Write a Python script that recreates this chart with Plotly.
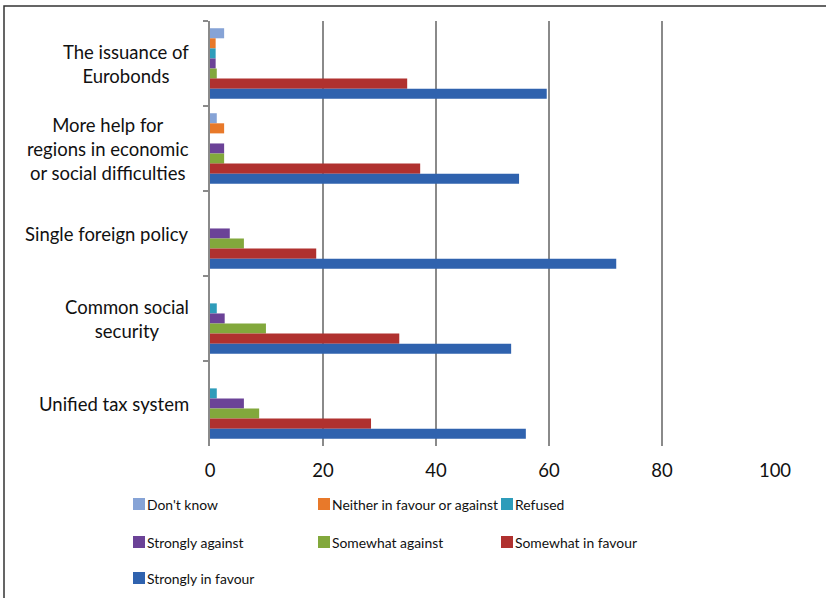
import plotly.graph_objects as go

# Survey categories (top to bottom)
categories = [
    "The issuance of<br>Eurobonds",
    "More help for<br>regions in economic<br>or social difficulties",
    "Single foreign policy",
    "Common social<br>security",
    "Unified tax system",
]

# Response shares (%) per category
dont_know = [2.5, 1.2, 0, 0, 0]
neither = [1.0, 2.5, 0, 0, 0]
refused = [1.0, 0, 0, 1.2, 1.2]
strongly_against = [1.0, 2.5, 3.5, 2.6, 6.0]
somewhat_against = [1.2, 2.5, 6.0, 9.9, 8.7]
somewhat_in_favour = [34.9, 37.2, 18.8, 33.5, 28.5]
strongly_in_favour = [59.6, 54.7, 71.9, 53.3, 55.9]

series_names = [
    "Don't know", "Neither in favour or against", "Refused",
    "Strongly against", "Somewhat against", "Somewhat in favour",
    "Strongly in favour",
]
series_values = [
    dont_know, neither, refused, strongly_against,
    somewhat_against, somewhat_in_favour, strongly_in_favour,
]
series_colors = [
    "#86A3D6", "#E8792A", "#2E9CBA", "#6B4297", "#82A83C", "#B0312F", "#2F62AE",
]

FONT = "Lato"
W, H = 826, 598
ML, MR, MT, MB = 210, 51, 21, 152
PW, PH = W - ML - MR, H - MT - MB


def px_x(px):
    return (px - ML) / PW


def px_y(py):
    return (H - MB - py) / PH


fig = go.Figure()
for name, vals, color in zip(series_names, series_values, series_colors):
    fig.add_trace(go.Bar(
        y=categories, x=vals, name=name, orientation="h",
        marker=dict(color=color, line=dict(width=0)),
        showlegend=False,
    ))

# category labels, centred block set against the axis
for cat in categories:
    fig.add_annotation(
        x=-0.033, xref="paper", y=cat, yref="y", text=cat,
        xanchor="right", yanchor="middle", align="center", showarrow=False,
        font=dict(family=FONT, size=18.5, color="#111"),
    )

# key below the chart: three columns, three rows
col_left = [133, 318, 501]
row_mid = [504, 542, 578]
shapes = []
for i, (name, color) in enumerate(zip(series_names, series_colors)):
    cx, ry = col_left[i % 3], row_mid[i // 3]
    shapes.append(dict(
        type="rect", xref="paper", yref="paper",
        x0=px_x(cx), x1=px_x(cx + 12), y0=px_y(ry + 6), y1=px_y(ry - 6),
        line=dict(width=0), fillcolor=color,
    ))
    fig.add_annotation(
        x=px_x(cx + 12), xref="paper", y=px_y(ry), yref="paper", text=name,
        xanchor="left", yanchor="middle", showarrow=False,
        font=dict(family=FONT, size=13.9, color="#111"),
    )

# outer chart frame
shapes.append(dict(
    type="rect", xref="paper", yref="paper",
    x0=px_x(4), x1=px_x(832), y0=px_y(606), y1=px_y(6),
    line=dict(color="#333", width=1.5), fillcolor="rgba(0,0,0,0)", layer="below",
))

fig.update_layout(
    width=W, height=H,
    margin=dict(l=ML, r=MR, t=MT, b=MB, autoexpand=False),
    paper_bgcolor="white", plot_bgcolor="white",
    barmode="group", bargap=0.17, bargroupgap=0,
    font=dict(family=FONT, size=16, color="#111"),
    showlegend=False,
    xaxis=dict(
        range=[0, 100], dtick=20, showgrid=True, gridcolor="#8a8a8a", gridwidth=2,
        zeroline=False, showline=False, ticks="", ticklabelstandoff=11,
        tickfont=dict(family=FONT, size=18.5, color="#111"),
    ),
    yaxis=dict(
        autorange="reversed", showticklabels=False, showline=True,
        linecolor="#8a8a8a", linewidth=2, ticks="outside", ticklen=5,
        tickcolor="#8a8a8a", tickwidth=2, tickson="boundaries", showgrid=False,
    ),
    shapes=shapes,
)

fig.write_html("out.html")
